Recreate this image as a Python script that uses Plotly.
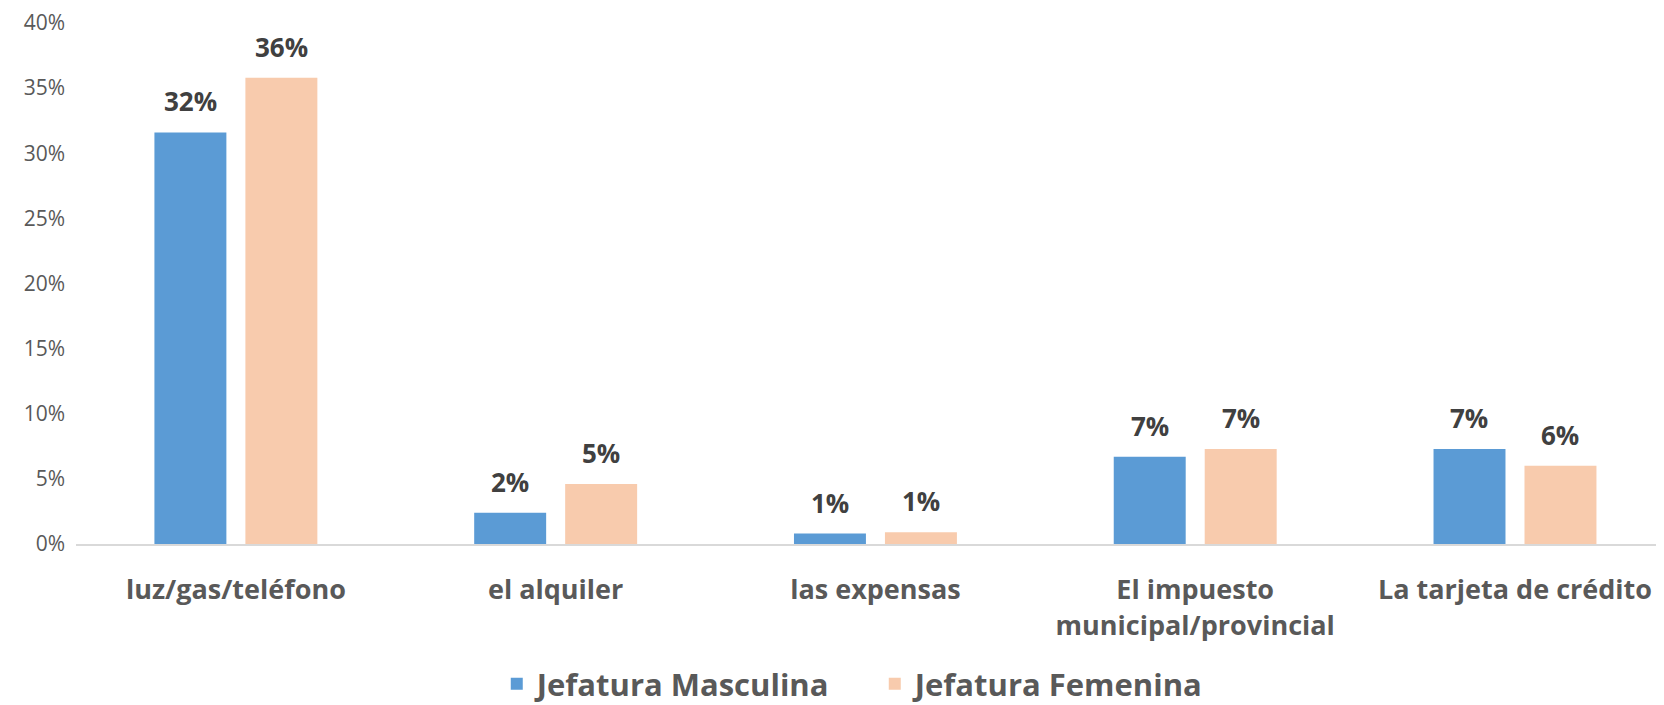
import plotly.graph_objects as go

categories = ["luz/gas/teléfono", "el alquiler", "las expensas",
              "El impuesto<br>municipal/provincial", "La tarjeta de crédito"]
masculina = [0.316, 0.024, 0.008, 0.067, 0.073]
femenina = [0.358, 0.046, 0.009, 0.073, 0.060]
series_names = ["Jefatura Masculina", "Jefatura Femenina"]
tick_vals = [0, 0.05, 0.10, 0.15, 0.20, 0.25, 0.30, 0.35, 0.40]

BLUE = "#5B9BD5"
ORANGE = "#F8CBAD"
FONT = "Open Sans"
GRAY = "#595959"
LABEL = "#404040"

fig = go.Figure()
fig.add_trace(go.Bar(x=categories, y=masculina, name=series_names[0],
                     marker=dict(color=BLUE, line=dict(width=0))))
fig.add_trace(go.Bar(x=categories, y=femenina, name=series_names[1],
                     marker=dict(color=ORANGE, line=dict(width=0))))

annotations = []
for vals, shift in ((masculina, -45.5), (femenina, 45.5)):
    for c, v in zip(categories, vals):
        annotations.append(dict(
            x=c, y=v, xref="x", yref="y", text=f"{v:.0%}", showarrow=False,
            xshift=shift, yshift=31, yanchor="middle",
            font=dict(family=FONT, size=26, color=LABEL, weight="bold")))

fig.update_layout(
    width=1664, height=705,
    margin=dict(l=68, r=8, t=15, b=169, autoexpand=False),
    paper_bgcolor="white", plot_bgcolor="white",
    barmode="group", bargap=0.431, bargroupgap=0.209,
    font=dict(family=FONT, color=GRAY),
    annotations=annotations,
    showlegend=True,
    legend=dict(orientation="h", x=0.503, xanchor="center",
                y=-0.269, yanchor="middle",
                font=dict(family=FONT, size=31, color=GRAY, weight="bold"),
                itemwidth=30, tracegroupgap=0, entrywidth=333),
    xaxis=dict(range=[-0.5, 4.466], showline=True, linecolor="#D9D9D9", linewidth=2,
               ticks="", showgrid=False, zeroline=False, automargin=False,
               tickfont=dict(family=FONT, size=27, color=GRAY, weight="bold"),
               ticklabelstandoff=21),
    yaxis=dict(range=[0, 0.40], tickvals=tick_vals, tickformat=".0%",
               showgrid=False, zeroline=False, showline=False, ticks="",
               automargin=False, ticklabeloverflow="allow",
               tickfont=dict(family=FONT, size=21, color=GRAY),
               ticklabelstandoff=10),
)

fig.write_html("out.html")
